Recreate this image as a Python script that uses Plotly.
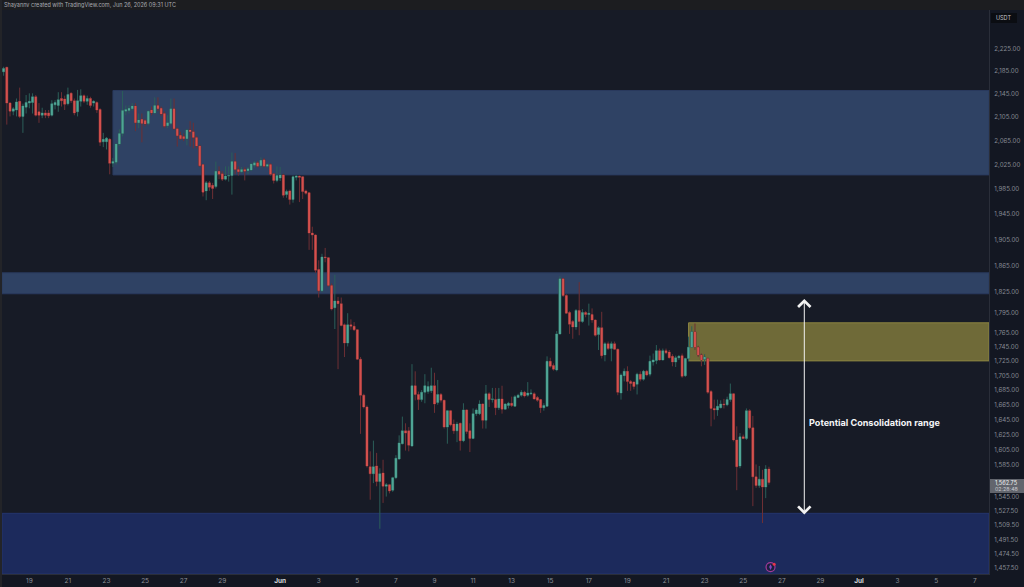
import math
import pandas as pd
import plotly.graph_objects as go

start = "2026-05-17 16:00"
opens = [2184,2192,2129,2115,2117,2132,2106,2122,2129,2130,2140,2114,2108,2112,2112,2108,2126,2125,2137,2136,
2128,2146,2133,2114,2132,2142,2132,2137,2129,2130,2118,2063,2063,2067,2027,2029,2059,2077,2115,2116,
2119,2124,2095,2101,2099,2094,2117,2112,2125,2120,2111,2090,2094,2119,2085,2074,2072,2068,2083,2080,
2070,2056,2025,1982,1995,1991,1989,2014,2010,2001,2006,2007,2030,2017,2013,2017,2015,2016,2024,2028,
2023,2033,2022,2025,2010,1999,2003,2008,1976,1982,1968,2004,2006,2005,1982,1979,1915,1912,1859,1827,
1878,1877,1835,1802,1812,1808,1777,1751,1777,1775,1770,1728,1678,1662,1583,1574,1584,1564,1575,1558,
1560,1553,1569,1593,1613,1630,1630,1610,1691,1679,1672,1682,1683,1684,1691,1668,1679,1671,1635,1657,
1639,1630,1640,1617,1658,1630,1620,1653,1653,1666,1644,1680,1672,1672,1661,1673,1659,1664,1667,1663,
1675,1678,1682,1678,1680,1680,1675,1672,1661,1663,1725,1719,1713,1764,1845,1820,1795,1782,1774,1798,
1782,1795,1792,1792,1784,1763,1773,1734,1750,1743,1750,1742,1681,1705,1711,1697,1696,1693,1707,1700,
1711,1707,1724,1726,1740,1727,1740,1738,1732,1724,1730,1733,1705,1729,1745,1767,1745,1734,1728,1729,
1683,1660,1658,1661,1666,1665,1672,1680,1618,1584,1622,1620,1657,1634,1570,1559,1567,1557,1580]
highs = [2193,2193,2131,2122,2137,2156,2128,2143,2146,2146,2143,2129,2121,2117,2117,2134,2134,2148,2148,2142,
2156,2148,2137,2152,2153,2144,2142,2140,2134,2132,2120,2078,2071,2069,2036,2060,2084,2150,2125,2125,
2129,2129,2111,2111,2102,2116,2123,2139,2139,2123,2115,2108,2137,2137,2087,2080,2077,2084,2098,2095,
2073,2058,2026,1998,1998,1995,2030,2022,2014,2022,2022,2045,2044,2022,2021,2021,2021,2028,2031,2031,
2037,2036,2027,2027,2011,2022,2021,2010,1984,1984,2007,2008,2007,2006,1984,1980,1925,1913,1873,1883,
1892,1878,1838,1851,1818,1817,1779,1794,1785,1781,1771,1731,1680,1664,1603,1617,1601,1581,1592,1562,
1561,1570,1598,1624,1649,1640,1635,1721,1711,1683,1685,1707,1697,1716,1709,1699,1681,1672,1658,1658,
1645,1642,1641,1667,1659,1640,1660,1660,1671,1667,1692,1682,1688,1688,1688,1691,1667,1669,1676,1678,
1680,1685,1684,1696,1686,1682,1677,1673,1667,1732,1730,1722,1768,1849,1846,1822,1797,1784,1800,1840,
1800,1797,1808,1801,1785,1775,1796,1752,1753,1753,1753,1743,1708,1715,1718,1699,1697,1709,1711,1713,
1713,1733,1736,1748,1743,1743,1743,1741,1735,1733,1734,1736,1730,1760,1775,1779,1747,1736,1735,1730,
1685,1672,1672,1671,1673,1676,1694,1681,1636,1627,1625,1660,1659,1650,1586,1584,1579,1585,1583]
lows = [2177,2092,2106,2108,2106,2103,2078,2111,2120,2111,2106,2095,2103,2103,2103,2106,2118,2114,2123,2117,
2125,2129,2108,2106,2123,2129,2126,2121,2123,2112,2056,2054,2050,2009,2021,2025,2056,2072,2108,2111,
2116,2081,2086,2062,2089,2091,2108,2110,2115,2107,2086,2086,2091,2083,2055,2066,2064,2057,2055,2052,
2052,2021,1973,1967,1982,1969,1986,2001,1998,1999,1997,1976,2009,2007,2011,1999,2009,2014,2020,2020,
2020,2020,2020,2007,1994,1996,1998,1971,1971,1960,1963,1999,1964,1969,1976,1889,1889,1854,1817,1825,
1870,1833,1798,1771,1714,1775,1731,1746,1770,1768,1727,1626,1660,1582,1541,1562,1558,1505,1537,1545,
1549,1551,1567,1592,1612,1604,1603,1609,1671,1658,1669,1667,1680,1681,1654,1665,1668,1633,1613,1636,
1626,1615,1604,1615,1626,1602,1619,1650,1651,1633,1633,1662,1668,1651,1658,1653,1658,1660,1662,1662,
1674,1676,1675,1676,1678,1672,1669,1654,1657,1662,1716,1712,1711,1763,1818,1793,1764,1757,1770,1762,
1780,1788,1776,1780,1760,1741,1729,1725,1741,1725,1741,1678,1672,1697,1684,1684,1686,1679,1697,1698,
1704,1704,1719,1721,1726,1726,1735,1729,1718,1717,1727,1702,1703,1725,1744,1741,1731,1718,1720,1680,
1636,1645,1650,1660,1660,1663,1669,1616,1553,1581,1619,1618,1632,1533,1556,1556,1512,1543,1560]
closes = [2190,2129,2115,2119,2131,2106,2124,2130,2132,2140,2108,2108,2112,2108,2107,2128,2130,2135,2133,2127,
2144,2133,2112,2133,2142,2132,2137,2125,2132,2117,2062,2067,2069,2027,2030,2059,2077,2116,2118,2120,
2124,2095,2100,2094,2093,2115,2112,2125,2119,2110,2089,2095,2119,2085,2073,2068,2068,2083,2080,2070,
2056,2023,1980,1995,1988,1986,2014,2009,2001,2006,2007,2030,2017,2013,2017,2014,2018,2026,2028,2022,
2032,2022,2025,2009,1999,2007,2008,1975,1981,1968,2005,2006,2004,1981,1978,1915,1912,1858,1827,1878,
1877,1835,1800,1812,1808,1776,1751,1777,1775,1770,1728,1678,1662,1584,1574,1583,1564,1574,1558,1560,
1552,1569,1594,1614,1630,1627,1611,1691,1679,1672,1682,1691,1690,1691,1666,1679,1671,1635,1657,1638,
1630,1639,1617,1658,1629,1620,1653,1658,1666,1644,1680,1672,1673,1661,1673,1659,1666,1667,1664,1676,
1678,1682,1677,1681,1681,1673,1671,1661,1664,1725,1718,1714,1764,1845,1820,1794,1778,1774,1798,1782,
1795,1792,1794,1784,1762,1773,1733,1750,1743,1750,1742,1682,1706,1711,1697,1694,1690,1707,1700,1711,
1706,1725,1727,1740,1727,1740,1737,1730,1724,1730,1732,1704,1729,1745,1767,1745,1734,1727,1731,1682,
1660,1658,1663,1666,1665,1672,1680,1618,1583,1622,1620,1657,1634,1570,1559,1567,1557,1580,1562.75]

y_ticks = [2225,2185,2145,2105,2065,2025,1985,1945,1905,1865,1825,1795,1765,1745,1725,1705,1685,1665,1645,1625,1605,1585,1545,1527.5,1509.5,1491.5,1474.5,1457.5]
y_labels = ["2,225.00","2,185.00","2,145.00","2,105.00","2,065.00","2,025.00","1,985.00","1,945.00","1,905.00","1,865.00","1,825.00","1,795.00","1,765.00","1,745.00","1,725.00","1,705.00","1,685.00","1,665.00","1,645.00","1,625.00","1,605.00","1,585.00","1,545.00","1,527.50","1,509.50","1,491.50","1,474.50","1,457.50"]
x_ticks = ["2026-05-19","2026-05-21","2026-05-23","2026-05-25","2026-05-27","2026-05-29","2026-06-01","2026-06-03","2026-06-05","2026-06-07","2026-06-09","2026-06-11","2026-06-13","2026-06-15","2026-06-17","2026-06-19","2026-06-21","2026-06-23","2026-06-25","2026-06-27","2026-06-29","2026-07-01","2026-07-03","2026-07-05","2026-07-07"]
bold = "<span style='color:#d6d8dd'><b>%s</b></span>"
x_labels = ["19","21","23","25","27","29",bold % "Jun","3","5","7","9","11","13","15","17","19","21","23","25","27","29",bold % "Jul","3","5","7"]

n = min(len(opens), len(highs), len(lows), len(closes))
opens, highs, lows, closes = opens[:n], highs[:n], lows[:n], closes[:n]
times = pd.date_range(start, periods=n, freq="4h")
body_hi = [max(a, b) for a, b in zip(opens, closes)]
body_lo = [min(a, b) for a, b in zip(opens, closes)]
highs = [max(a, b) for a, b in zip(highs, body_hi)]
lows = [min(a, b) for a, b in zip(lows, body_lo)]

BG = "#171b26"; AX = "#131722"
RED = "#d4504d"; GREEN = "#4fa595"
fig = go.Figure()
fig.add_trace(go.Candlestick(x=times, open=opens, high=highs, low=lows, close=closes, hoverinfo="skip", showlegend=False,
    increasing=dict(line=dict(color="#2b5f59", width=1), fillcolor="#2b5f59"),
    decreasing=dict(line=dict(color="#6e2f34", width=1), fillcolor="#6e2f34")))
fig.add_trace(go.Candlestick(x=times, open=opens, high=body_hi, low=body_lo, close=closes, hoverinfo="skip", showlegend=False,
    increasing=dict(line=dict(color=GREEN, width=0), fillcolor=GREEN),
    decreasing=dict(line=dict(color=RED, width=0), fillcolor=RED)))
fig.add_trace(go.Scatter(x=["2026-06-26 10:00"], y=[1458.7], mode="markers", hoverinfo="skip", showlegend=False,
    marker=dict(size=9, color="#1a1f3f", line=dict(color="#a23a98", width=1.2))))
fig.add_trace(go.Scatter(x=["2026-06-26 10:00"], y=[1458.7], mode="markers", hoverinfo="skip", showlegend=False,
    marker=dict(size=4, symbol="diamond-tall", color="#7d45c4")))
fig.add_trace(go.Scatter(x=["2026-06-26 14:30"], y=[1462], mode="markers", hoverinfo="skip", showlegend=False,
    marker=dict(size=3, color="#e8354a")))

xr = ["2026-05-17 14:00", "2026-07-07 17:45"]
def zone(x0, x1, y0, y1, fill, border):
    fig.add_shape(type="rect", xref="x", yref="y", x0=x0, x1=x1, y0=y0, y1=y1, layer="below",
                  fillcolor=fill, line=dict(color=border, width=1))
zone("2026-05-23 08:00", xr[1], 2008, 2151, "#2f4264", "#2a3a5e")
zone(xr[0], xr[1], 1822.6, 1854, "#2f4264", "#2a3a5e")
zone(xr[0], xr[1], 1450.5, 1524, "#1c2a5c", "#24346c")
zone("2026-06-22 04:00", xr[1], 1725.6, 1780, "#6f6a38", "#8a8440")

W, H = 987.0, 564.0
def px(x0, x1, y0, y1, col):
    fig.add_shape(type="rect", xref="paper", yref="paper", layer="above", line=dict(width=0), fillcolor=col,
                  x0=(x0-2)/W, x1=(x1-2)/W, y0=(574-y1)/H, y1=(574-y0)/H)
px(0, 1024, 0, 10, "#1c1d20")
px(0, 2, 0, 587, "#232428")
px(991, 1017, 13, 23, "#0b0d12")
px(990, 1024, 479, 493, "#62656d")

def note(text, x, y, size, color, anchor="left"):
    fig.add_annotation(text=text, xref="paper", yref="paper", x=(x-2)/W, y=(574-y)/H, showarrow=False,
                       xanchor=anchor, yanchor="middle", font=dict(size=size, color=color, family="Inter"))
note("Shayannv created with TradingView.com, Jun 26, 2026 09:31 UTC", 2, 4.5, 5.5, "#a9abb0")
note("USDT", 994, 18, 5.5, "#c4c6cc")
note("1,562.75", 1006, 482.5, 5.6, "#f2f2f4", "center")
note("02:28:48", 1006, 489, 5.3, "#c9cbd0", "center")

fig.add_annotation(text="<b>Potential Consolidation range</b>", xref="x", yref="y", x="2026-06-28 07:00", y=math.log10(1640.5),
                   showarrow=False, xanchor="left", yanchor="middle", font=dict(size=9.1, color="#f4f4f6", family="Inter"))
fig.add_annotation(x="2026-06-28 04:00", y=math.log10(1815), ax="2026-06-28 04:00", ay=math.log10(1520.7), xref="x", yref="y",
                   axref="x", ayref="y", text="", showarrow=True, arrowhead=4, arrowside="end+start", arrowsize=2.4,
                   arrowwidth=1, arrowcolor="#f2f2f2", standoff=0, startstandoff=0)

fig.update_layout(width=1024, height=587, margin=dict(l=2, r=35, t=10, b=13), autosize=False,
    paper_bgcolor=AX, plot_bgcolor=BG, showlegend=False, boxgap=0.1, font=dict(family="Inter", color="#8b8f98", size=6.5),
    xaxis=dict(type="date", range=xr, rangeslider=dict(visible=False), tickmode="array", tickvals=x_ticks, ticktext=x_labels,
               showgrid=False, zeroline=False, showline=True, linecolor="#2a2e39", ticks="", tickangle=0,
               tickfont=dict(size=6.5, color="#8b8f98"), fixedrange=True),
    yaxis=dict(type="log", side="right", range=[math.log10(1450.5), math.log10(2296.8)], tickmode="array", tickvals=y_ticks,
               ticktext=y_labels, showgrid=False, zeroline=False, showline=True, linecolor="#2a2e39", ticks="",
               ticklabelstandoff=3, tickfont=dict(size=6.2, color="#868a93"), fixedrange=True))
fig.write_html("out.html", config=dict(displayModeBar=False),
               post_script="document.body.style.margin='0';document.body.style.overflow='hidden';document.documentElement.style.background='#131722';")
